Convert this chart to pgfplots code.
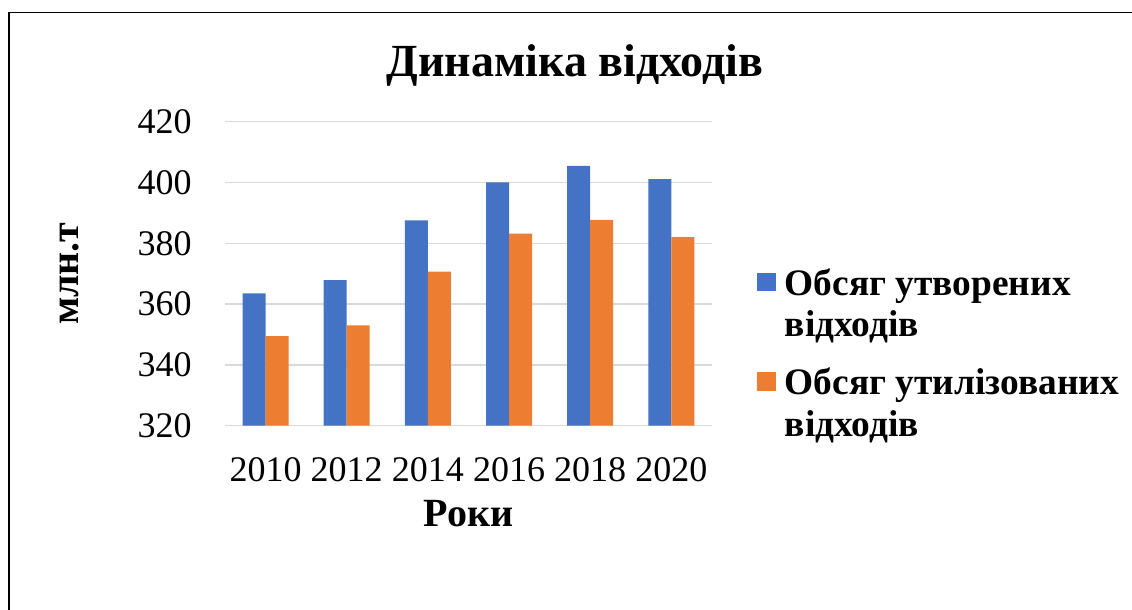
\documentclass[border=0pt]{standalone}
\usepackage{pgfplots}
\pgfplotsset{compat=1.18}
\usepackage{fontspec}
\setmainfont{Liberation Serif}

\definecolor{barblue}{HTML}{4472C4}
\definecolor{barorange}{HTML}{ED7D31}
\definecolor{gridgray}{HTML}{D9D9D9}

\begin{document}
\begin{tikzpicture}[x=1pt,y=1pt]
  % page: 1 px of the reference = 0.5pt
  \path[use as bounding box] (0,0) rectangle (566,305);
  \draw[line width=0.9pt] (4.5,0) -- (4.5,298.75) -- (566,298.75);

  \node[anchor=base, font=\bfseries\fontsize{23}{26}\selectfont] at (287.5,266.6) {Динаміка відходів};

  \begin{axis}[
    at={(112.5pt,92.15pt)}, anchor=south west,
    width=243.5pt, height=152pt, scale only axis,
    ymin=320, ymax=420, ytick={320,340,...,420},
    xmin=-0.5, xmax=5.5, xtick={0,...,5},
    xticklabels={2010,2012,2014,2016,2018,2020},
    axis line style={draw=none},
    major tick length=0pt,
    ymajorgrids, grid style={gridgray, line width=0.75pt},
    ybar=0pt, bar width=11.5pt,
    /pgf/number format/assume math mode=true,
    tick label style={font=\fontsize{18}{20}\selectfont},
    yticklabel style={anchor=east, inner sep=0pt, xshift=-16.5pt},
    xticklabel style={anchor=base, inner sep=0pt, yshift=-28pt},
    xlabel={Роки},
    xlabel style={at={(axis description cs:0.5,0)}, anchor=base, inner sep=0pt,
      yshift=-50.5pt, font=\bfseries\fontsize{20}{22}\selectfont},
    ylabel={млн.т},
    ylabel style={at={(axis description cs:0,0.5)}, anchor=center, inner sep=0pt,
      yshift=77.5pt, font=\bfseries\fontsize{20}{22}\selectfont},
    legend cell align=left,
    legend image code/.code={\fill[#1] (0pt,6.4pt) rectangle (9.25pt,15.6pt);},
    legend style={at={(axis description cs:1.0924,0.519)}, anchor=north west,
      draw=none, fill=none, inner sep=0pt,
      font=\bfseries\fontsize{18.7}{20.8}\selectfont,
      nodes={inner sep=0pt}, cells={align=left}, row sep=14pt,
      column sep=4.5pt},
  ]
    \addplot[fill=barblue, draw=none] coordinates {
      (0,363.5) (1,367.9) (2,387.5) (3,400.0) (4,405.5) (5,401.1)};
    \addlegendentry{Обсяг утворених\\відходів}
    \addplot[fill=barorange, draw=none] coordinates {
      (0,349.5) (1,353.0) (2,370.7) (3,383.2) (4,387.7) (5,382.0)};
    \addlegendentry{Обсяг утилізованих\\відходів}
  \end{axis}
\end{tikzpicture}
\end{document}
